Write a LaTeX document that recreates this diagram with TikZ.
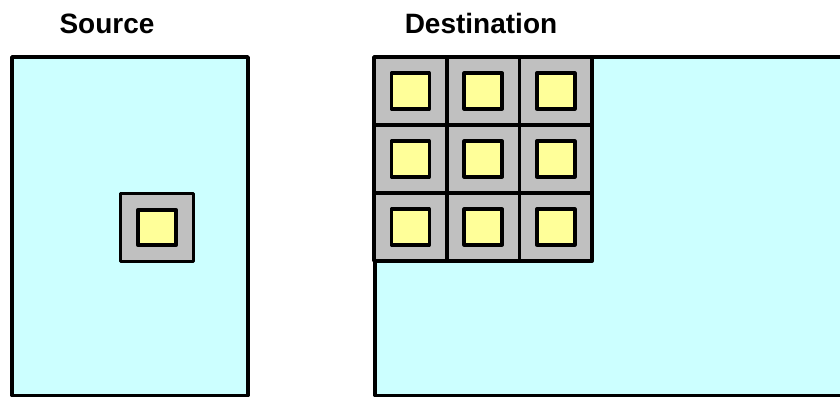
\documentclass[tikz,border=0pt]{standalone}
\usepackage{fontspec}
\setmainfont{Liberation Sans}
\definecolor{bgcyan}{HTML}{CCFFFF}
\definecolor{tilegray}{HTML}{C0C0C0}
\definecolor{pixyellow}{HTML}{FFFF99}
\begin{document}
\begin{tikzpicture}[x=1pt,y=-1pt,line width=3.6pt,line join=round,
  title/.style={font=\bfseries\fontsize{28}{30}\selectfont,anchor=base,inner sep=0pt},
  area/.style={draw=black,fill=bgcyan},
  tile/.style={draw=black,fill=tilegray,minimum width=72.7pt,minimum height=68pt,inner sep=0pt},
  pix/.style={draw=black,fill=pixyellow,minimum width=38pt,minimum height=35.5pt,inner sep=0pt}]
\useasboundingbox (0,0) rectangle (840,397);
\clip (0,0) rectangle (840,397);
% titles
\node[title] (srct) at (107,33) {Source};
\node[title] (dstt) at (481,33) {Destination};
% source area
\draw[area] (12,57) rectangle (248,395.5);
\node[tile] (stile) at (157,227.5) {};
\node[pix] (spix) at (stile.center) {};
% destination area
\draw[area] (375,57) rectangle (850,395.5);
\foreach \r in {0,1,2}{
  \foreach \c in {0,1,2}{
    \node[tile] (t\r\c) at ({374+36.35+72.7*\c},{57+34+68*\r}) {};
    \node[pix] (p\r\c) at (t\r\c.center) {};
  }
}
\end{tikzpicture}
\end{document}
